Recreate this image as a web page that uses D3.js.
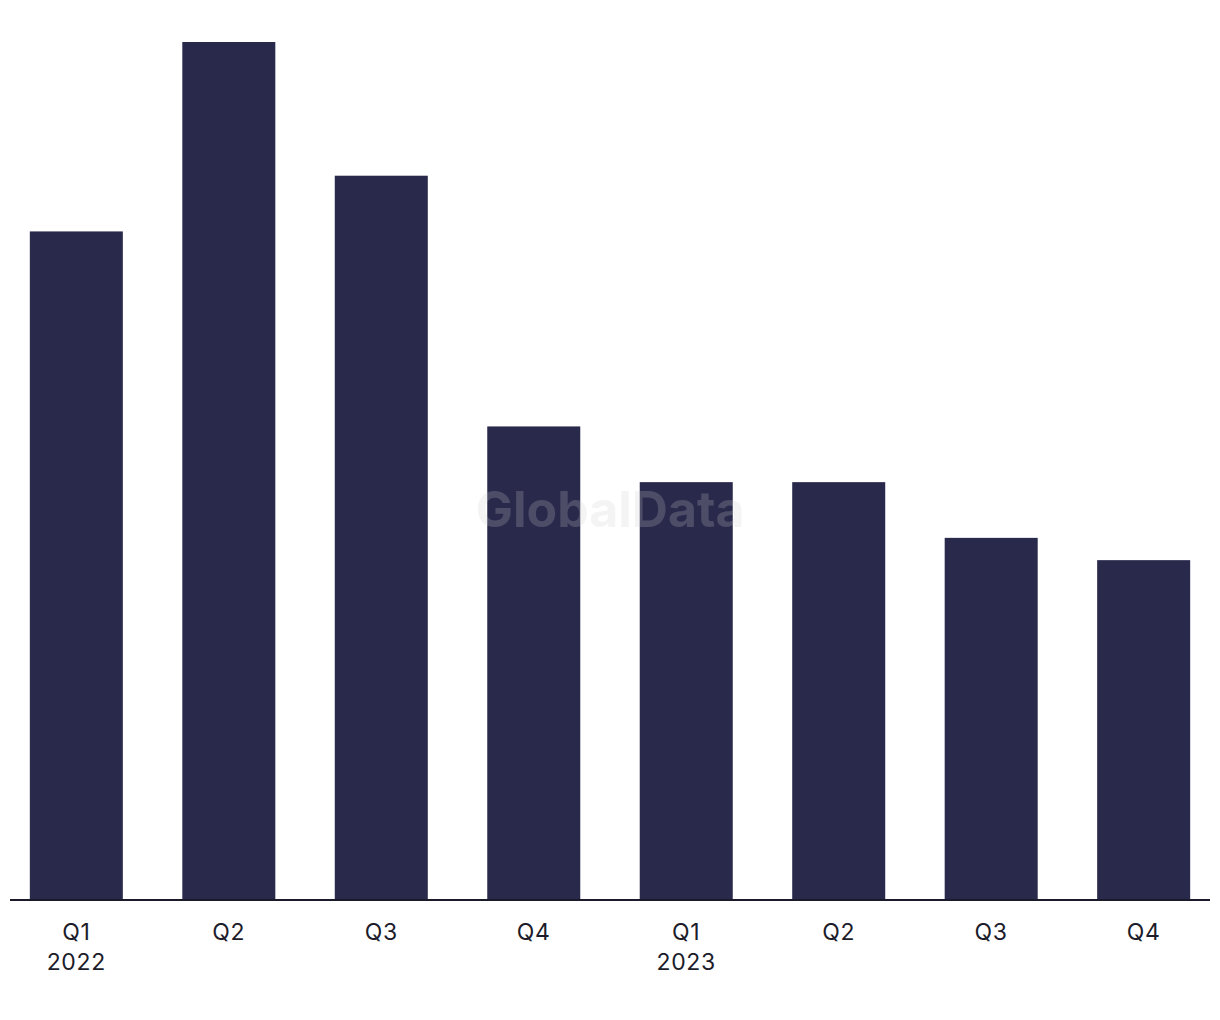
<!DOCTYPE html>
<html>
<head>
<meta charset="utf-8">
<script src="https://cdn.jsdelivr.net/npm/d3@7"></script>
<style>
  body { margin: 0; background: #ffffff; }
</style>
</head>
<body>
<div id="chart"></div>
<script>
(function () {
  var width = 1220,
    height = 1020;

  // data
  var quarters = ["Q1", "Q2", "Q3", "Q4", "Q1", "Q2", "Q3", "Q4"];
  var years = ["2022", "", "", "", "2023", "", "", ""];
  var values = [120, 154, 130, 85, 75, 75, 65, 61];

  var datapoints = quarters.map(function (q, i) {
    return { key: i, quarter: q, year: years[i], value: values[i] };
  });

  var baseline = 900;

  var svg = d3.select("#chart")
    .append("svg")
    .attr("width", width)
    .attr("height", height);

  var x = d3.scaleBand()
    .domain(datapoints.map(function (d) { return d.key; }))
    .range([10, 1210])
    .paddingInner(0.39)
    .paddingOuter(0.13);

  var y = d3.scaleLinear()
    .domain([0, 154])
    .range([baseline, 42]);

  svg.selectAll(".bar")
    .data(datapoints)
    .enter().append("rect")
    .attr("class", "bar")
    .attr("x", function (d) { return x(d.key); })
    .attr("width", x.bandwidth())
    .attr("y", function (d) { return y(d.value); })
    .attr("height", function (d) { return y(0) - y(d.value); })
    .attr("fill", "#29294c");

  // watermark
  svg.append("text")
    .attr("x", 610)
    .attr("y", 527)
    .attr("text-anchor", "middle")
    .attr("fill", "#cdcdcd")
    .attr("fill-opacity", 0.22)
    .style("font-family", "Inter, sans-serif")
    .style("font-weight", 700)
    .style("font-size", "50px")
    .text("GlobalData");

  // axis
  var axis = svg.append("g")
    .attr("transform", "translate(0," + baseline + ")")
    .call(d3.axisBottom(x).tickSize(0).tickFormat(""));
  axis.select(".domain")
    .attr("d", "M10,0H1210")
    .attr("stroke", "#1a1a2a")
    .attr("stroke-width", 2);

  var labels = svg.selectAll(".tick-label")
    .data(datapoints)
    .enter().append("text")
    .attr("class", "tick-label")
    .attr("x", function (d) { return x(d.key) + x.bandwidth() / 2; })
    .attr("y", 940)
    .attr("text-anchor", "middle")
    .attr("fill", "#1c1c2a")
    .style("font-family", "Inter, sans-serif")
    .style("font-size", "23px")
    .style("letter-spacing", "0.7px");

  labels.append("tspan")
    .attr("x", function (d) { return x(d.key) + x.bandwidth() / 2; })
    .text(function (d) { return d.quarter; });

  labels.filter(function (d) { return d.year; })
    .append("tspan")
    .attr("x", function (d) { return x(d.key) + x.bandwidth() / 2; })
    .attr("dy", 30)
    .text(function (d) { return d.year; });
})();
</script>
</body>
</html>
